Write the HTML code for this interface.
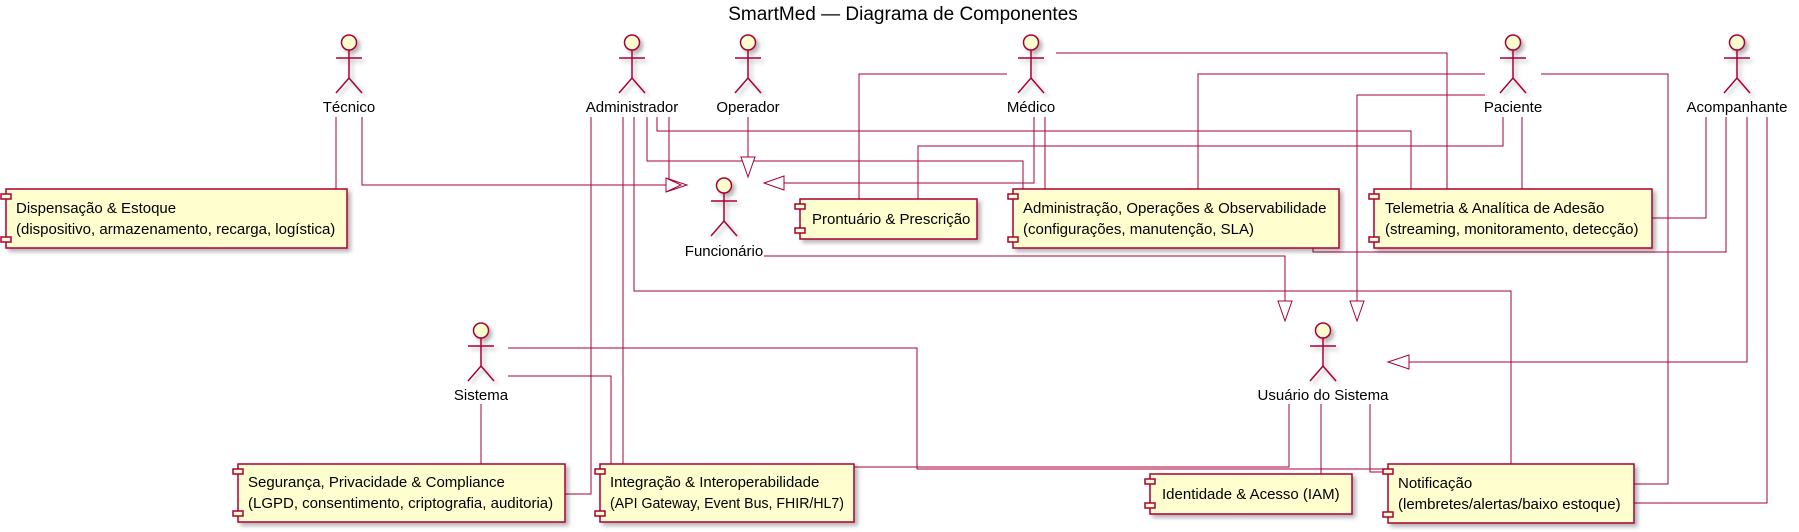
<!DOCTYPE html>
<html><head><meta charset="utf-8"><style>
html,body{margin:0;padding:0;background:#fff;}
svg{display:block;}
text{font-family:"Liberation Sans","DejaVu Sans",sans-serif;font-size:15px;fill:#000;}
.al{font-size:15px;}
</style></head><body>
<svg width="1799" height="532" viewBox="0 0 1799 532" xmlns="http://www.w3.org/2000/svg">
<defs>
<filter id="sh" x="-10%" y="-10%" width="130%" height="140%"><feDropShadow dx="3" dy="3" stdDeviation="2" flood-color="#000" flood-opacity="0.3"/></filter>
<g id="actor" fill="#FEFECE" stroke="#A80036" stroke-width="1.5">
<circle cx="0" cy="7.5" r="7.5"/>
<path d="M0,15 V43 M-13,23 H13 M-13,58 L0,43 L13,58" fill="none"/>
</g>
</defs>
<text x="903" y="20" text-anchor="middle" style="font-size:19px">SmartMed — Diagrama de Componentes</text>

<g fill="none" stroke="#A80036" stroke-width="1">
<path d="M336,117 V189"/>
<path d="M362,117 V185 H666"/>
<path d="M591,117 V494 H565"/>
<path d="M623,117 V464"/>
<path d="M634,117 V291 H1511 V464"/>
<path d="M647,117 V161 H1023 V189"/>
<path d="M657,117 V131 H1411 V189"/>
<path d="M669,117 V180"/>
<path d="M748,117 V157"/>
<path d="M1007,74 H859 V199"/>
<path d="M1056,53 H1447 V189"/>
<path d="M1034,117 V183 H784"/>
<path d="M1045,117 V189"/>
<path d="M1485,74 H1198 V189"/>
<path d="M1485,95 H1357 V301"/>
<path d="M1503,117 V146 H918 V199"/>
<path d="M1522,117 V189"/>
<path d="M1541,74 H1668 V484 H1634"/>
<path d="M1706,117 V218 H1652"/>
<path d="M1726,117 V252 H1313 V248"/>
<path d="M1747,117 V362 H1409"/>
<path d="M1767,117 V503 H1634"/>
<path d="M764,256 H1285 V301"/>
<path d="M481,404 V464"/>
<path d="M508,348 H917 V469 H1388"/>
<path d="M508,376 H611 V464"/>
<path d="M1289,404 V467 H854"/>
<path d="M1321,404 V474"/>
<path d="M1370,404 V472 H1388"/>
<path d="M666,178 L681,185 L666,192 Z M666,178 L687,185 L666,192" fill="#fff"/>
<path d="M741,157 L748,177 L755,157 Z" fill="#fff"/>
<path d="M784,176 L764,183 L784,190 Z" fill="#fff"/>
<path d="M1278,301 L1285,321 L1292,301 Z" fill="#fff"/>
<path d="M1350,301 L1357,321 L1364,301 Z" fill="#fff"/>
<path d="M1409,355 L1388,362 L1409,369 Z" fill="#fff"/>
</g>

<g filter="url(#sh)">
<use href="#actor" x="349" y="35"/>
<use href="#actor" x="632" y="35"/>
<use href="#actor" x="748" y="35"/>
<use href="#actor" x="1031" y="35"/>
<use href="#actor" x="1513" y="35"/>
<use href="#actor" x="1737" y="35"/>
<use href="#actor" x="724" y="178"/>
<use href="#actor" x="481" y="323"/>
<use href="#actor" x="1323" y="323"/>
</g>
<g text-anchor="middle">
<text class="al" x="349" y="112">Técnico</text>
<text class="al" x="632" y="112">Administrador</text>
<text class="al" x="748" y="112">Operador</text>
<text class="al" x="1031" y="112">Médico</text>
<text class="al" x="1513" y="112">Paciente</text>
<text class="al" x="1737" y="112">Acompanhante</text>
<text class="al" x="724" y="256">Funcionário</text>
<text class="al" x="481" y="400">Sistema</text>
<text class="al" x="1323" y="400">Usuário do Sistema</text>
</g>

<g fill="#FEFECE" stroke="#A80036" stroke-width="1.5">
<g filter="url(#sh)">
<rect x="6" y="189" width="341" height="59"/>
<rect x="800" y="199" width="177" height="40"/>
<rect x="1013" y="189" width="326" height="59"/>
<rect x="1374" y="189" width="278" height="59"/>
<rect x="238" y="464" width="327" height="58"/>
<rect x="600" y="464" width="254" height="58"/>
<rect x="1150" y="474" width="202" height="40"/>
<rect x="1388" y="464" width="246" height="59"/>
</g>
<rect x="1" y="194" width="10" height="5"/><rect x="1" y="237" width="10" height="5"/>
<rect x="795" y="204" width="10" height="5"/><rect x="795" y="228" width="10" height="5"/>
<rect x="1008" y="194" width="10" height="5"/><rect x="1008" y="237" width="10" height="5"/>
<rect x="1369" y="194" width="10" height="5"/><rect x="1369" y="237" width="10" height="5"/>
<rect x="233" y="469" width="10" height="5"/><rect x="233" y="511" width="10" height="5"/>
<rect x="595" y="469" width="10" height="5"/><rect x="595" y="511" width="10" height="5"/>
<rect x="1145" y="479" width="10" height="5"/><rect x="1145" y="503" width="10" height="5"/>
<rect x="1383" y="469" width="10" height="5"/><rect x="1383" y="512" width="10" height="5"/>
</g>
<text x="16" y="213">Dispensação &amp; Estoque</text>
<text x="16" y="234">(dispositivo, armazenamento, recarga, logística)</text>
<text x="812" y="224">Prontuário &amp; Prescrição</text>
<text x="1023" y="213">Administração, Operações &amp; Observabilidade</text>
<text x="1023" y="234">(configurações, manutenção, SLA)</text>
<text x="1385" y="213">Telemetria &amp; Analítica de Adesão</text>
<text x="1385" y="234">(streaming, monitoramento, detecção)</text>
<text x="248" y="487">Segurança, Privacidade &amp; Compliance</text>
<text x="248" y="508">(LGPD, consentimento, criptografia, auditoria)</text>
<text x="610" y="487">Integração &amp; Interoperabilidade</text>
<text x="610" y="508" textLength="234" lengthAdjust="spacingAndGlyphs">(API Gateway, Event Bus, FHIR/HL7)</text>
<text x="1162" y="499">Identidade &amp; Acesso (IAM)</text>
<text x="1398" y="488">Notificação</text>
<text x="1398" y="509">(lembretes/alertas/baixo estoque)</text>
</svg>
</body></html>
